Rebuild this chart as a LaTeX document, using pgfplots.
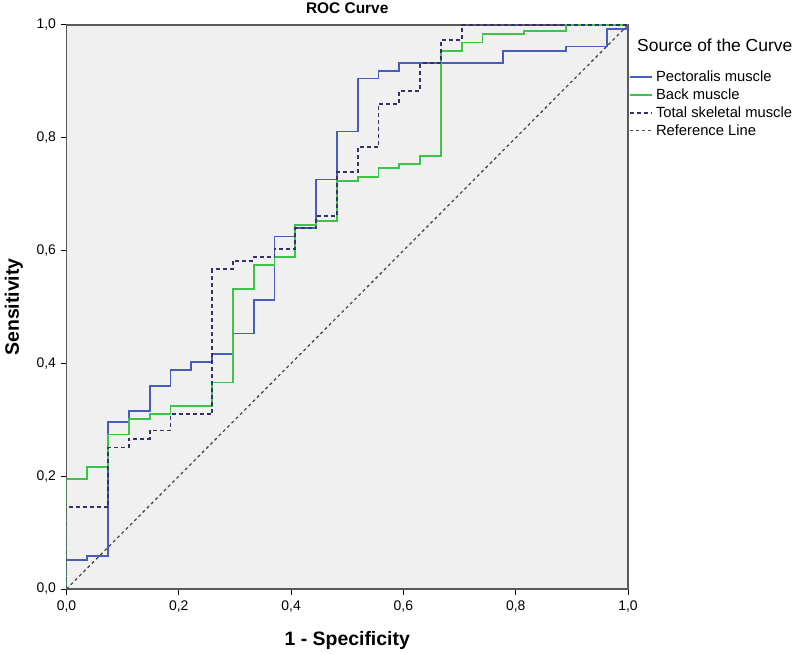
\documentclass[border=0pt]{standalone}
\usepackage{fontspec}
\setmainfont{Liberation Sans}
\usepackage{pgfplots}
\pgfplotsset{compat=1.18}
\definecolor{pecblue}{RGB}{72,92,190}
\definecolor{backgreen}{RGB}{60,196,72}
\definecolor{totnavy}{RGB}{50,50,105}
\definecolor{refgray}{RGB}{75,75,75}
\definecolor{plotbg}{RGB}{240,240,240}

\begin{document}
\begin{tikzpicture}
\useasboundingbox (-66.5bp,-65bp) rectangle (732.5bp,589bp);
\begin{axis}[
  at={(0,0)}, anchor=south west,
  width=561.5bp, height=564bp, scale only axis,
  xmin=0, xmax=1, ymin=0, ymax=1,
  xtick={0,0.2,0.4,0.6,0.8,1},
  ytick={0,0.2,0.4,0.6,0.8,1},
  xtick pos=bottom, ytick pos=left,
  tick align=outside, major tick length=6bp,
  tick style={black, line width=1bp},
  axis line style={draw=black!65, line width=1.3bp},
  axis background/.style={fill=plotbg},
  /pgf/number format/.cd, fixed, fixed zerofill, precision=1, use comma, assume math mode=true,
  /pgfplots/.cd,
  ticklabel style={font=\fontsize{14}{16}\selectfont},
  xticklabel style={yshift=-2bp},
  yticklabel style={xshift=-1bp},
  title={ROC Curve},
  title style={at={(0.5,1)}, anchor=base, yshift=6bp, font=\bfseries\fontsize{15.5}{17}\selectfont},
  xlabel={1 - Specificity},
  xlabel style={at={(0.5,0)}, anchor=base, yshift=-56bp, font=\bfseries\fontsize{19.5}{22}\selectfont},
  ylabel={Sensitivity},
  ylabel style={at={(0,0.5)}, anchor=base, yshift=47.5bp, font=\bfseries\fontsize{19.5}{22}\selectfont},
  legend style={at={(1.0018,0.921)}, anchor=north west, draw=none, fill=none,
    font=\fontsize{14.8}{16}\selectfont, row sep=3.8bp, inner sep=0pt,
    nodes={inner xsep=3bp, inner ysep=1bp}, cells={anchor=west}},
  legend image code/.code={\draw[#1] (0bp,0bp) -- (22bp,0bp);},
]
% Pectoralis muscle
\addplot[const plot, pecblue, line width=1.8bp] coordinates {
  (0,0) (0,0.051) (0.0370,0.059) (0.0741,0.2955) (0.1111,0.316) (0.1481,0.360)
  (0.1852,0.388) (0.2222,0.403) (0.2593,0.417) (0.2963,0.453) (0.3333,0.512)
  (0.3704,0.625) (0.4074,0.640) (0.4444,0.726) (0.4815,0.811) (0.5185,0.905)
  (0.5556,0.919) (0.5926,0.932) (0.7778,0.954) (0.8889,0.962) (0.9630,0.993) (1,1)
};
\addlegendentry{Pectoralis muscle}
% Back muscle
\addplot[const plot, backgreen, line width=1.8bp] coordinates {
  (0,0) (0,0.1945) (0.0370,0.217) (0.0741,0.274) (0.1111,0.301) (0.1481,0.310)
  (0.1852,0.324) (0.2593,0.366) (0.2963,0.532) (0.3333,0.574) (0.3704,0.589)
  (0.4074,0.645) (0.4444,0.652) (0.4815,0.723) (0.5185,0.731) (0.5556,0.746)
  (0.5926,0.754) (0.6296,0.768) (0.6667,0.954) (0.7037,0.969) (0.7407,0.984)
  (0.8148,0.990) (0.8889,1.0) (1,1)
};
\addlegendentry{Back muscle}
% Total skeletal muscle
\addplot[const plot, totnavy, line width=1.8bp, dash pattern=on 4bp off 3bp] coordinates {
  (0,0) (0,0.145) (0.0741,0.251) (0.1111,0.266) (0.1481,0.281) (0.1852,0.310)
  (0.2593,0.567) (0.2963,0.582) (0.3333,0.588) (0.3704,0.603) (0.4074,0.640)
  (0.4444,0.661) (0.4815,0.739) (0.5185,0.783) (0.5556,0.860) (0.5926,0.883)
  (0.6296,0.932) (0.6667,0.973) (0.7037,1.0) (1,1)
};
\addlegendentry{Total skeletal muscle}
% Reference line
\addplot[refgray, line width=1.3bp, dash pattern=on 3bp off 3bp] coordinates {(0,0) (1,1)};
\addlegendentry{Reference Line}
\end{axis}
% legend title, outside the clipped axis area
\node[anchor=west, font=\fontsize{17.5}{20}\selectfont, inner sep=0pt] at (570.5bp,544bp) {Source of the Curve};
\end{tikzpicture}
\end{document}
